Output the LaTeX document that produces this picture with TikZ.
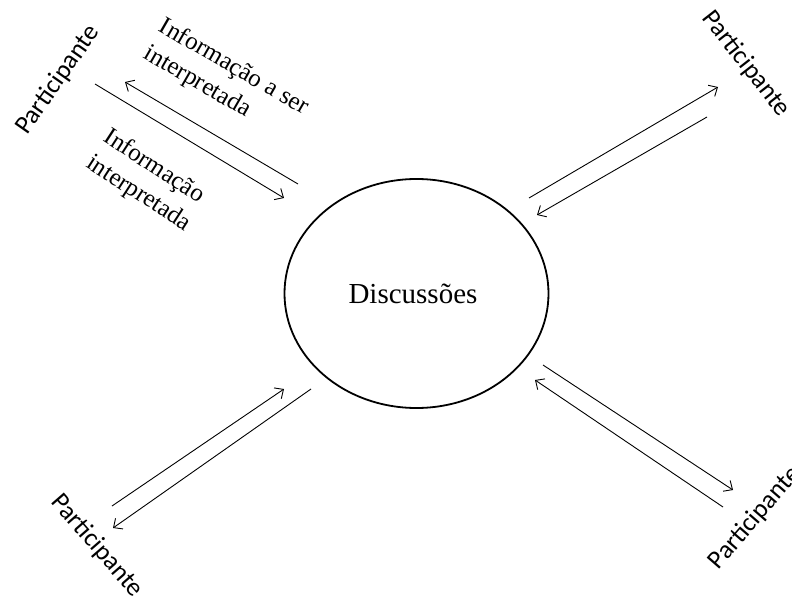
\documentclass[tikz,border=0pt]{standalone}
\usepackage{fontspec}
\setmainfont{Liberation Serif}
\newfontfamily\calib{Carlito}
\usetikzlibrary{arrows.meta,shapes.geometric}
\begin{document}
\begin{tikzpicture}[x=1pt,y=-1pt,
  part/.style={font=\calib\fontsize{26}{30}\selectfont, inner sep=0pt},
  lab/.style={font=\fontsize{25}{31}\selectfont, align=left, inner sep=0pt},
  flow/.style={line width=0.9pt, -{Straight Barb[length=7pt,width=13pt]}},
  circ/.style={ellipse, draw, line width=1.8pt, minimum width=264pt, minimum height=229pt, inner sep=0pt}
]
\useasboundingbox (0,0) rectangle (792,599);
\fill[white] (0,0) rectangle (792,599);
\node[circ] (disc) at (416.5,293.5) {};
\node[font=\fontsize{29}{32}\selectfont] (disctext) at (413,294) {Discussões};

\node[part, rotate=55] (p1) at (58,80) {Participante};
\node[part, rotate=-52] (p2) at (746,64) {Participante};
\node[part, rotate=-49] (p3) at (97,546) {Participante};
\node[part, rotate=49] (p4) at (755,518) {Participante};

\node[lab, rotate=-30] (l1) at (226,81) {Informação a ser\\interpretada};
\node[lab, rotate=-33] (l2) at (147,181) {Informação\\interpretada};

% top-left
\coordinate (a1s) at (298,184); \coordinate (a1e) at (125,82);
\coordinate (b1s) at (95,84);   \coordinate (b1e) at (284,198);
\draw[flow] (a1s) -- (a1e);
\draw[flow] (b1s) -- (b1e);
% top-right
\coordinate (a2s) at (529,198); \coordinate (a2e) at (718,87);
\coordinate (b2s) at (707,117); \coordinate (b2e) at (537,215);
\draw[flow] (a2s) -- (a2e);
\draw[flow] (b2s) -- (b2e);
% bottom-left
\coordinate (a3s) at (112,506); \coordinate (a3e) at (284,389);
\coordinate (b3s) at (311,389); \coordinate (b3e) at (113,528);
\draw[flow] (a3s) -- (a3e);
\draw[flow] (b3s) -- (b3e);
% bottom-right
\coordinate (a4s) at (543,365); \coordinate (a4e) at (733,490);
\coordinate (b4s) at (723,507); \coordinate (b4e) at (535,380);
\draw[flow] (a4s) -- (a4e);
\draw[flow] (b4s) -- (b4e);
\end{tikzpicture}
\end{document}
